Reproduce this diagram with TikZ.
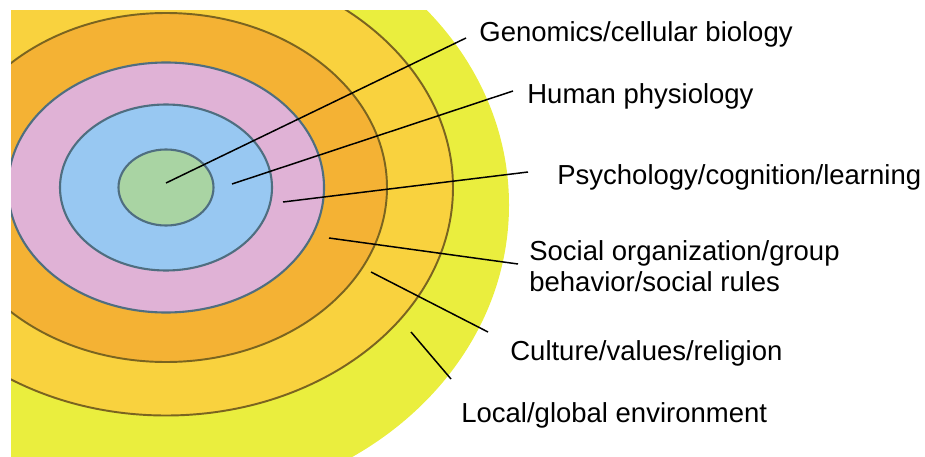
\documentclass[tikz,border=0pt]{standalone}
\usepackage{fontspec}
\setmainfont{Liberation Sans}

\definecolor{ringgreen}{HTML}{A9D4A3}
\definecolor{ringblue}{HTML}{98C8F2}
\definecolor{ringpink}{HTML}{E0B2D6}
\definecolor{ringorange}{HTML}{F4B234}
\definecolor{ringlight}{HTML}{F9D23E}
\definecolor{ringyellow}{HTML}{EAEE3E}
\definecolor{innerline}{HTML}{4F6E80}
\definecolor{outerline}{HTML}{7A6420}

\begin{document}
\begin{tikzpicture}[x=0.02cm, y=-0.02cm,
		innerring/.style={draw=innerline, line width=1.2pt},
		outerring/.style={draw=outerline, line width=1.1pt},
		lead/.style={black, line width=0.85pt},
		lbl/.style={anchor=base west, inner sep=0pt, font=\fontsize{15.65}{17.64}\selectfont}]
			% Page size in pixels, and the centre of the rings
			\useasboundingbox (0,0) rectangle (925,456);
			\def\cx{166}
			\def\cy{187.5}
			
			% Rings, cut off at the left and top edge
			\begin{scope}
				\clip (11,11) rectangle (925,456);
				\fill[ringyellow] (\cx,205) ellipse [x radius=343, y radius=300];
				\draw[outerring, fill=ringlight] (\cx,\cy) ellipse [x radius=287, y radius=228];
				\draw[outerring, fill=ringorange] (\cx,\cy) ellipse [x radius=221, y radius=174.5];
				\draw[innerring, fill=ringpink] (\cx,\cy) ellipse [x radius=158, y radius=125];
				\draw[innerring, fill=ringblue] (\cx,\cy) ellipse [x radius=106, y radius=83];
				\draw[innerring, fill=ringgreen] (\cx,\cy) ellipse [x radius=47.5, y radius=38];
			\end{scope}
			
			% Labels
			\node[lbl] (geno) at (479,42) {Genomics/cellular biology};
			\node[lbl] (physio) at (527,103) {Human physiology};
			\node[lbl] (psych) at (557,184) {Psychology/cognition/learning};
			\node[lbl, anchor=north west, align=left] (social) at (529,240.5) {Social organization/group\\behavior/social rules};
			\node[lbl] (culture) at (510,360) {Culture/values/religion};
			\node[lbl] (env) at (461,422) {Local/global environment};
			
			% Points in the rings and the free ends of the leaders
			\coordinate (genoIn) at (166,183);
			\coordinate (genoOut) at (466,38);
			\coordinate (physioIn) at (232,184);
			\coordinate (physioOut) at (513,91);
			\coordinate (psychIn) at (283,202);
			\coordinate (psychOut) at (528,172);
			\coordinate (socialIn) at (329,238);
			\coordinate (socialOut) at (518,264);
			\coordinate (cultureIn) at (371,272);
			\coordinate (cultureOut) at (488,332);
			\coordinate (envIn) at (411,332);
			\coordinate (envOut) at (451,379);
			
			% Leaders
			\draw[lead] (genoIn) -- (genoOut);
			\draw[lead] (physioIn) -- (physioOut);
			\draw[lead] (psychIn) -- (psychOut);
			\draw[lead] (socialIn) -- (socialOut);
			\draw[lead] (cultureIn) -- (cultureOut);
			\draw[lead] (envIn) -- (envOut);
			
		\end{tikzpicture}
\end{document}
